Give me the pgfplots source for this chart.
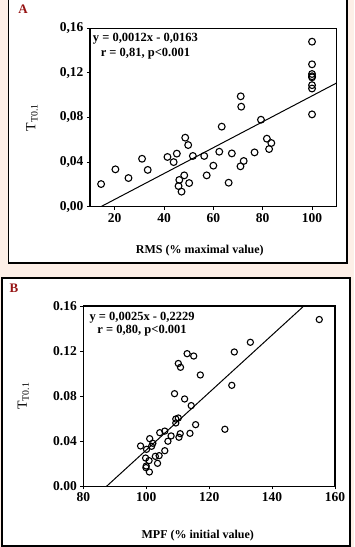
\documentclass[border=0pt]{standalone}
\usepackage{fontspec}
\setmainfont{Liberation Serif}
\usepackage{pgfplots}
\pgfplotsset{compat=1.18}
\definecolor{bgpink}{RGB}{253,239,231}
\definecolor{lblred}{RGB}{150,20,20}
\pgfplotsset{
  common/.style={
    scale only axis, anchor=south west,
    axis line style={line width=1.2pt},
    tick style={black, line width=0.8pt},
    tick align=outside, major tick length=3pt,
    xtick pos=bottom, ytick pos=left,
    /pgf/number format/assume math mode=true,
    ticklabel style={font=\bfseries\fontsize{13.5}{15}\selectfont},
    xlabel style={font=\bfseries\fontsize{12}{14}\selectfont, anchor=center},
    ylabel style={font=\fontsize{14}{16}\selectfont, anchor=center},
    ymin=0, ymax=0.16,
    ytick={0,0.04,0.08,0.12,0.16},
    clip=true,
  }
}
\begin{document}
\begin{tikzpicture}
\path[use as bounding box] (0,0) rectangle (354pt,547pt);
\fill[bgpink] (0,0) rectangle (354pt,547pt);
\filldraw[fill=white, draw=black, line width=1.2pt] (8.5pt,284pt) rectangle (347pt,552pt);
\filldraw[fill=white, draw=black, line width=1.2pt] (2pt,1pt) rectangle (350pt,269pt);
\node[text=lblred, font=\bfseries\fontsize{13}{15}\selectfont] at (23pt,537.5pt) {A};
\node[text=lblred, font=\bfseries\fontsize{13}{15}\selectfont] at (14pt,259pt) {B};

% Panel A
\begin{axis}[common,
  at={(90pt,340.3pt)}, width=246.7pt, height=178.4pt,
  xmin=10, xmax=110, xtick={20,40,60,80,100},
  yticklabel style={/pgf/number format/.cd, fixed, fixed zerofill, precision=2, use comma},
  xlabel={RMS (\% maximal value)},
  xlabel style={at={(axis description cs:0.445,-0.245)}},
  ylabel={T\textsubscript{T0.1}},
  ylabel style={at={(axis description cs:-0.235,0.5)}},
]
\addplot[black, line width=1pt] coordinates {(14.4,0) (110,0.111)};
\addplot[only marks, mark=o, mark size=3.4pt, mark options={line width=1.1pt, black}] coordinates {
(14.5,0.0203) (20.3,0.0335) (25.6,0.0257) (31.1,0.043) (33.4,0.033)
(41.4,0.0446) (43.9,0.040) (45.2,0.0476) (48.6,0.0619) (49.8,0.0553)
(48.2,0.0281) (46.2,0.024) (45.9,0.0185) (47.1,0.0135) (50.2,0.0212)
(51.7,0.0455) (56.3,0.0455) (57.3,0.0281) (60.0,0.0368) (62.4,0.0493)
(63.4,0.0718) (66.2,0.0215) (67.5,0.0478) (71.1,0.099) (71.3,0.0897)
(71.0,0.0362) (72.3,0.041) (76.7,0.0487) (79.3,0.078) (81.7,0.061)
(82.6,0.0517) (83.5,0.0571)
(100,0.148) (100,0.1277) (100,0.119) (100,0.117) (100,0.116) (100,0.109) (100,0.106) (100,0.0828)
};
\node[align=center, anchor=north west, inner sep=0pt, font=\bfseries\fontsize{12.5}{15.6}\selectfont]
  at (rel axis cs:0.011,0.975) {y = 0,0012x - 0,0163\\r = 0,81, p<0.001};
\end{axis}

% Panel B
\begin{axis}[common,
  at={(83.3pt,60.7pt)}, width=251.7pt, height=180.3pt,
  xmin=80, xmax=160, xtick={80,100,120,140,160},
  yticklabel style={/pgf/number format/.cd, fixed, fixed zerofill, precision=2},
  xlabel={MPF (\% initial value)},
  xlabel style={at={(axis description cs:0.455,-0.275)}},
  ylabel={T\textsubscript{T0.1}},
  ylabel style={at={(axis description cs:-0.238,0.5)}},
]
\addplot[black, line width=1pt] coordinates {(87.4,0) (150.1,0.16)};
\addplot[only marks, mark=o, mark size=3.1pt, mark options={line width=1.1pt, black}] coordinates {
(155.0,0.148) (133.1,0.1278) (128.0,0.1192) (113.0,0.1177) (115.1,0.1156)
(110.2,0.109) (110.9,0.1056) (117.2,0.0988) (127.2,0.0896) (109.0,0.0822)
(112.2,0.0775) (114.3,0.0716) (109.4,0.0597) (110.2,0.0606) (109.4,0.0562)
(115.7,0.0547) (125.0,0.0506) (113.9,0.047) (110.8,0.0467) (110.4,0.0435)
(105.9,0.049) (104.3,0.0476) (107.9,0.0447) (106.9,0.040) (105.9,0.0316)
(98.2,0.0358) (101.1,0.0423) (102.1,0.0382) (100.1,0.0328) (101.7,0.0355)
(99.8,0.0251) (100.9,0.0228) (102.9,0.0266) (104.1,0.0272) (100.0,0.018)
(99.9,0.0166) (101.0,0.0127) (103.6,0.0204)
};
\node[align=center, anchor=north west, inner sep=0pt, font=\bfseries\fontsize{12.5}{13.5}\selectfont]
  at (rel axis cs:0.024,0.967) {y = 0,0025x - 0,2229\\r = 0,80, p<0.001};
\end{axis}
\end{tikzpicture}
\end{document}
